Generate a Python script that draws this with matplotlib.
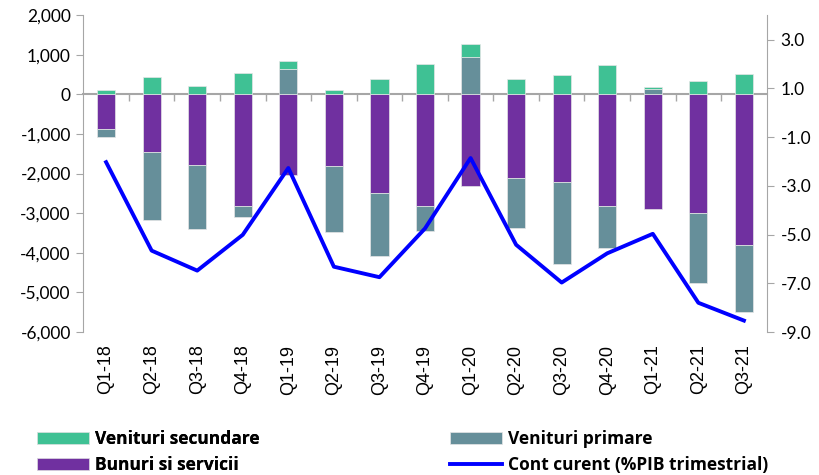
import numpy as np
import matplotlib
matplotlib.use('Agg')
import matplotlib.pyplot as plt
from matplotlib.ticker import FuncFormatter

plt.rcParams['font.family'] = ['Lato', 'DejaVu Sans']
plt.rcParams['axes.unicode_minus'] = False

# Date (mil. EUR si % PIB)
trimestre = ['Q1-18', 'Q2-18', 'Q3-18', 'Q4-18', 'Q1-19', 'Q2-19', 'Q3-19', 'Q4-19',
             'Q1-20', 'Q2-20', 'Q3-20', 'Q4-20', 'Q1-21', 'Q2-21', 'Q3-21']
bunuri_servicii = [-880, -1465, -1770, -2830, -2030, -1820, -2480, -2830,
                   -2320, -2120, -2210, -2830, -2900, -3000, -3810]
venituri_primare = [-190, -1700, -1640, -260, 650, -1660, -1590, -620,
                    940, -1250, -2080, -1040, 140, -1750, -1680]
venituri_secundare = [100, 430, 200, 530, 200, 110, 400, 780,
                      340, 380, 490, 730, 50, 330, 510]
cont_curent = [-2.03, -5.66, -6.48, -5.01, -2.27, -6.32, -6.75, -4.75,
               -1.86, -5.42, -6.97, -5.77, -4.97, -7.8, -8.53]

culori = {'bunuri': '#7030A0', 'primare': '#668F9A', 'secundare': '#3FC194'}
gri = '#A6A6A6'

fig = plt.figure(figsize=(8.2, 4.75), dpi=100)
ax = fig.add_axes([0.1016, 0.301, 0.8334, 0.667])
x = np.arange(len(trimestre))

# Stivuire separata pentru valori pozitive si negative (ca in Excel)
poz = np.zeros(len(x))
neg = np.zeros(len(x))
bare = {}
for cheie, serie in [('bunuri', bunuri_servicii), ('primare', venituri_primare),
                     ('secundare', venituri_secundare)]:
    v = np.array(serie, dtype=float)
    jos = np.where(v >= 0, poz, neg)
    bare[cheie] = ax.bar(x, v, 0.4, bottom=jos, color=culori[cheie],
                         edgecolor='#E6E6E6', linewidth=0.5, zorder=2)
    poz = poz + np.where(v >= 0, v, 0)
    neg = neg + np.where(v < 0, v, 0)

ax.set_xlim(-0.5, len(x) - 0.5)
ax.set_ylim(-6000, 2000)
ax.set_yticks(np.arange(-6000, 2001, 1000))
ax.yaxis.set_major_formatter(FuncFormatter(lambda v, p: f'{int(v):,}'))

# axa X la zero, cu marcaje intre categorii
ax.spines['bottom'].set_position(('data', 0))
ax.spines['bottom'].set_color(gri)
ax.spines['bottom'].set_linewidth(1.5)
ax.spines['bottom'].set_zorder(1)
ax.set_xticks(np.arange(0.5, len(x) - 1, 1))
ax.set_xticklabels([])
ax.tick_params(axis='x', direction='out', length=5, color=gri, width=1)
ax.spines['top'].set_visible(False)
ax.spines['right'].set_visible(False)
ax.spines['left'].set_color(gri)
ax.tick_params(axis='y', direction='out', length=5, color=gri, labelsize=12.5, pad=4)

etichete = ax.secondary_xaxis(0)
etichete.set_xticks(x)
etichete.set_xticklabels(trimestre, rotation=90, fontsize=13)
etichete.tick_params(length=0, pad=9)
etichete.spines['bottom'].set_visible(False)

ax2 = ax.twinx()
linie, = ax2.plot(x, cont_curent, color='#0000FF', linewidth=2.8, zorder=3)
ax2.set_ylim(-9, 4)
ax2.set_yticks(np.arange(-9, 3.1, 2))
ax2.yaxis.set_major_formatter(FuncFormatter(lambda v, p: f'{v:.1f}'))
ax2.spines['right'].set_color(gri)
ax2.spines['top'].set_visible(False)
ax2.spines['left'].set_visible(False)
ax2.spines['bottom'].set_visible(False)
ax2.tick_params(axis='y', direction='out', length=5, color=gri, labelsize=12.5, pad=5)

# Legenda pe doua coloane
stil_leg = dict(loc='upper left', frameon=False,
                prop={'family': 'Open Sans', 'weight': 'bold', 'size': 12.5},
                handlelength=3.0, handleheight=0.7, handletextpad=0.33,
                labelspacing=0.45, borderpad=0, borderaxespad=0)
leg1 = fig.legend([bare['secundare'], bare['bunuri']],
                  ['Venituri secundare', 'Bunuri si servicii'],
                  bbox_to_anchor=(37 / 820, 1 - 430 / 475), **stil_leg)
fig.add_artist(leg1)
fig.legend([bare['primare'], linie],
           ['Venituri primare', 'Cont curent (%PIB trimestrial)'],
           bbox_to_anchor=(450 / 820, 1 - 430 / 475), **stil_leg)

# fontul etichetelor de trimestru, aplicat dupa generarea lor
fig.canvas.draw()
for t in etichete.get_xticklabels():
    t.set_fontfamily(['Liberation Sans', 'DejaVu Sans'])

fig.savefig('out.png', dpi=100)
